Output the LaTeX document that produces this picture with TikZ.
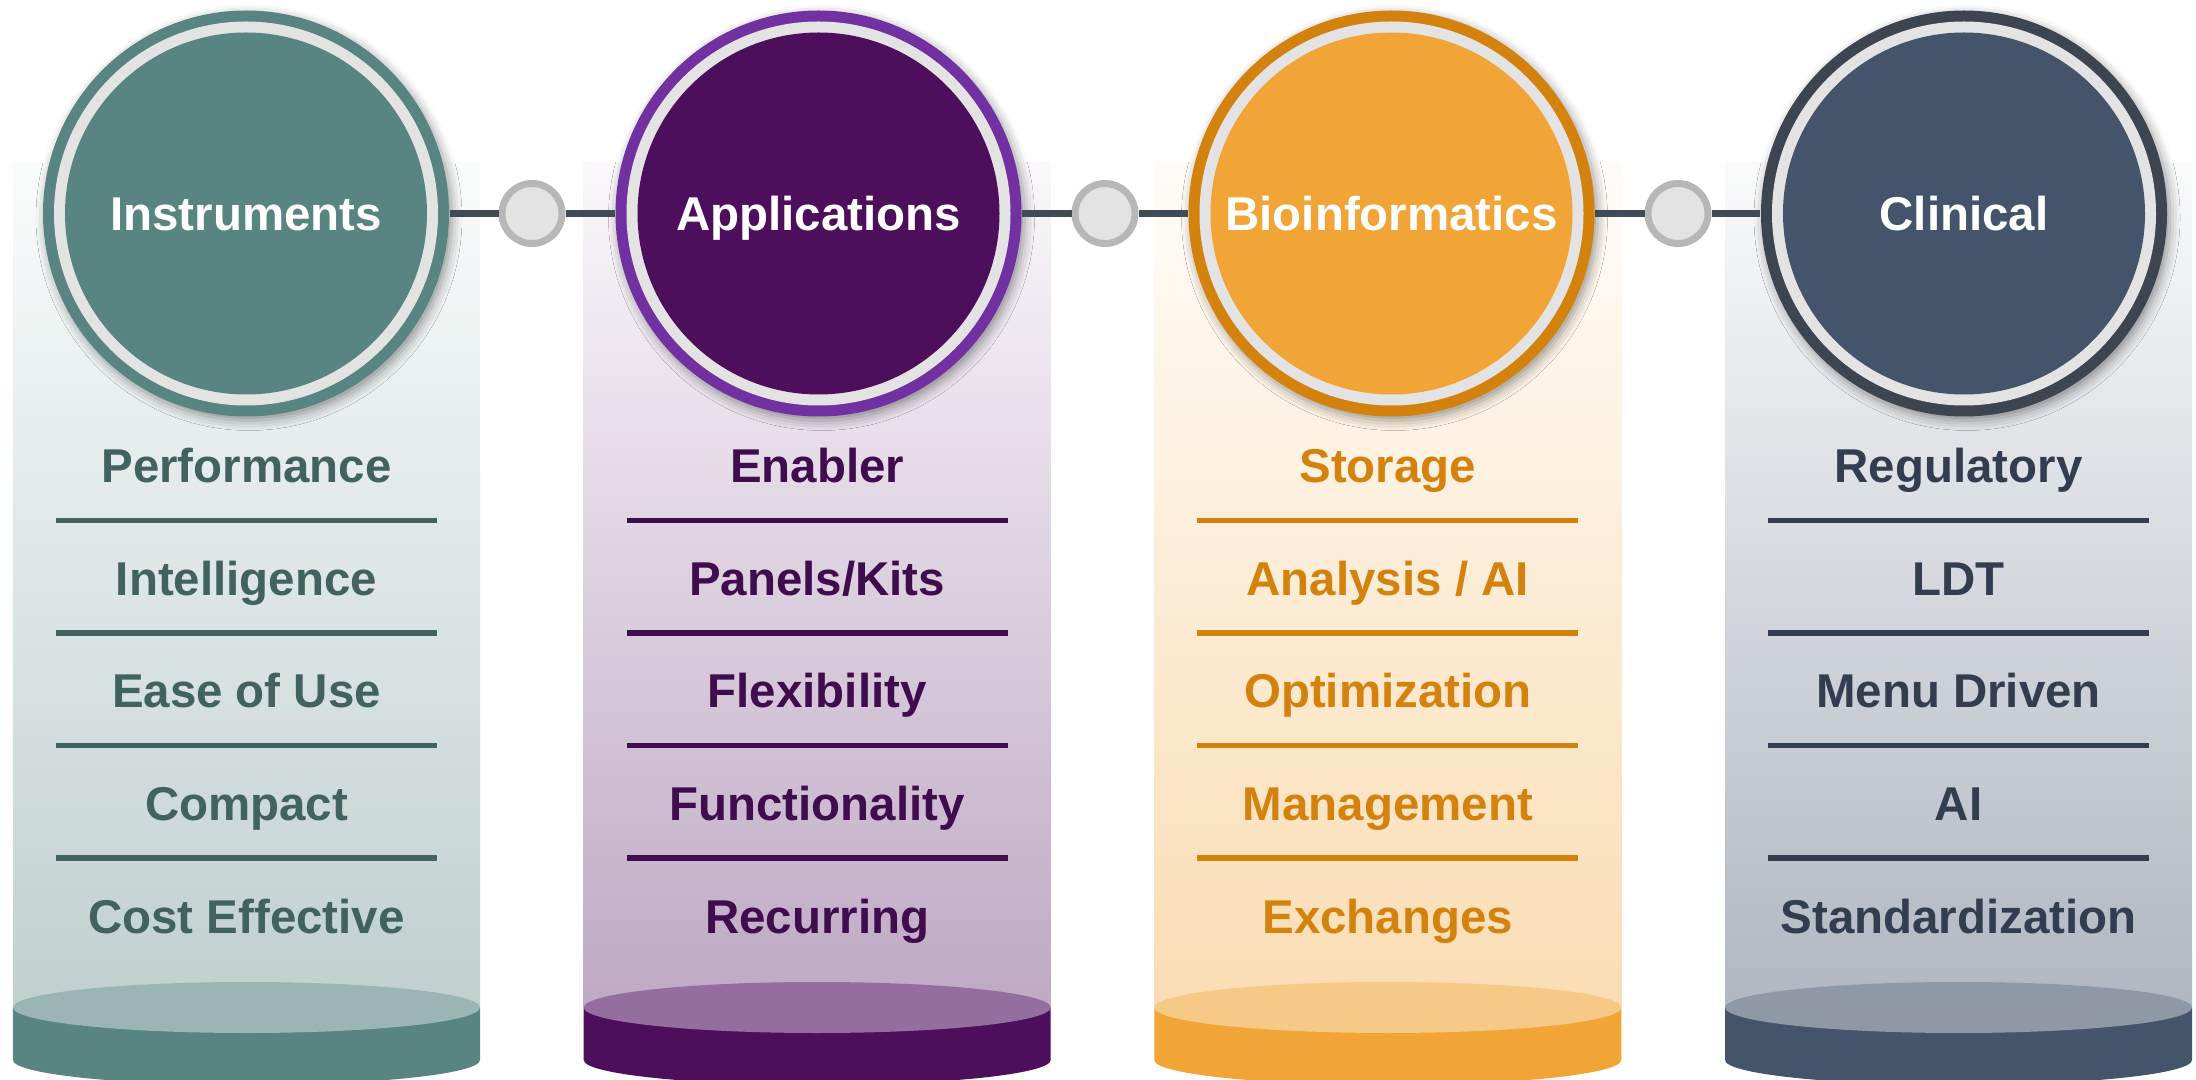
\documentclass[tikz,border=0pt]{standalone}
\usepackage{fontspec}
\setmainfont{Liberation Sans}
\usetikzlibrary{shadows.blur}

\definecolor{tealmain}{HTML}{588481}
\definecolor{tealtext}{HTML}{41625F}
\definecolor{purplemain}{HTML}{4D0E5C}
\definecolor{purplering}{HTML}{7231A0}
\definecolor{purpletext}{HTML}{3F0C4D}
\definecolor{orangemain}{HTML}{F2A537}
\definecolor{orangering}{HTML}{D4820E}
\definecolor{orangetext}{HTML}{D4820E}
\definecolor{slatemain}{HTML}{44546A}
\definecolor{slatering}{HTML}{3D4550}
\definecolor{slatetext}{HTML}{323E50}
\definecolor{ringgray}{HTML}{E3E3E3}
\definecolor{jointgray}{HTML}{B7B7B7}
\definecolor{linkgray}{HTML}{414B55}

\begin{document}
\begin{tikzpicture}[
    hub/.style n args={2}{circle, minimum size=4.06cm, inner sep=0pt, fill=#1, text=white,
      font=\fontsize{13.5}{16}\selectfont\bfseries, text height=0.34cm, text depth=0pt,
      blur shadow={shadow xshift=0.03cm, shadow yshift=-0.04cm, shadow blur radius=0.1cm, shadow opacity=40},
      path picture={
        \fill[ringgray] (path picture bounding box.center) circle (1.92cm);
        \fill[#2] (path picture bounding box.center) circle (1.81cm);}},
    joint/.style={circle, minimum size=0.60cm, inner sep=0pt, draw=jointgray, line width=0.07cm, fill=ringgray},
    item/.style={font=\fontsize{13.5}{16}\selectfont\bfseries, text height=0.34cm, text depth=0pt, inner sep=0pt},
    link/.style={line width=0.075cm, draw=linkgray},
    sepline/.style={line width=0.055cm}
  ]
  \useasboundingbox (0,0) rectangle (21.96,10.79);

  % Panels and bases
  \foreach \cx/\c/\s in {2.465/tealmain/38, 8.172/purplemain/36, 13.878/orangemain/38, 19.585/slatemain/42} {
    \shade[top color=\c!3!white, bottom color=\c!\s!white] (\cx-2.335,0.715) rectangle (\cx+2.335,9.16);
    \fill[\c] (\cx-2.335,0.715) -- (\cx-2.335,0.19) arc[start angle=180, end angle=360, x radius=2.335, y radius=0.25] -- (\cx+2.335,0.715) -- cycle;
    \fill[\c!60!white] (\cx,0.715) ellipse[x radius=2.335, y radius=0.255];
  }

  % Items
  \foreach \t [count=\i] in {Performance, Intelligence, Ease of Use, Compact, Cost Effective}
    \node[item, text=tealtext] (inst\i) at (2.465,{6.13-1.125*(\i-1)}) {\t};
  \foreach \t [count=\i] in {Enabler, Panels/Kits, Flexibility, Functionality, Recurring}
    \node[item, text=purpletext] (appl\i) at (8.172,{6.13-1.125*(\i-1)}) {\t};
  \foreach \t [count=\i] in {Storage, Analysis / AI, Optimization, Management, Exchanges}
    \node[item, text=orangetext] (bioi\i) at (13.878,{6.13-1.125*(\i-1)}) {\t};
  \foreach \t [count=\i] in {Regulatory, LDT, Menu Driven, AI, Standardization}
    \node[item, text=slatetext] (clin\i) at (19.585,{6.13-1.125*(\i-1)}) {\t};

  % Separators
  \foreach \cx/\c in {2.465/tealtext, 8.172/purpletext, 13.878/orangetext, 19.585/slatetext}
    \foreach \i in {1,...,4}
      \draw[sepline, \c] (\cx-1.905,{5.585-1.125*(\i-1)}) -- ++(3.81,0);

  % Nodes
  \node[joint] (j1) at (5.32,8.655) {};
  \node[joint] (j2) at (11.05,8.655) {};
  \node[joint] (j3) at (16.78,8.655) {};

  \node[hub={tealmain}{tealmain}] (inst) at (2.46,8.655) {Instruments};
  \node[hub={purplering}{purplemain}] (appl) at (8.185,8.655) {Applications};
  \node[hub={orangering}{orangemain}] (bioi) at (13.915,8.655) {Bioinformatics};
  \node[hub={slatering}{slatemain}] (clin) at (19.64,8.655) {Clinical};

  % Links
  \draw[link] (inst) -- (j1);
  \draw[link] (j1) -- (appl);
  \draw[link] (appl) -- (j2);
  \draw[link] (j2) -- (bioi);
  \draw[link] (bioi) -- (j3);
  \draw[link] (j3) -- (clin);
\end{tikzpicture}
\end{document}
